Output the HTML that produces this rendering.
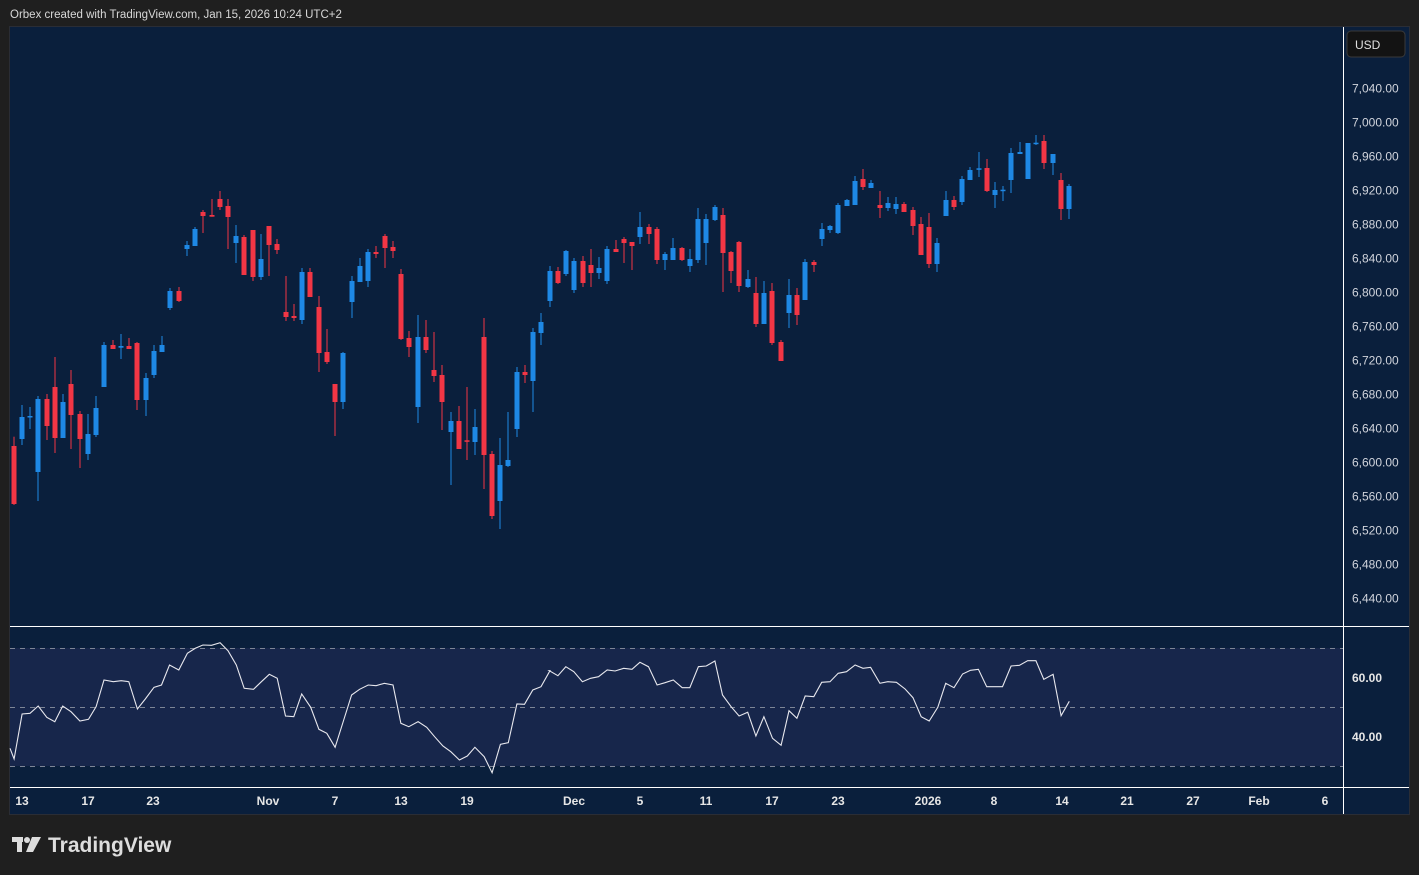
<!DOCTYPE html>
<html><head><meta charset="utf-8"><style>
html,body{margin:0;padding:0;background:#1f1f1f;width:1419px;height:875px;overflow:hidden}
svg{display:block}
text{font-family:"Liberation Sans",sans-serif}
</style></head><body>
<svg id="s" width="1419" height="875" xmlns="http://www.w3.org/2000/svg">
<rect x="0" y="0" width="1419" height="875" fill="#1f1f1f"/>
<text x="10" y="18" font-size="11.5" fill="#d8d8d8">Orbex created with TradingView.com, Jan 15, 2026 10:24 UTC+2</text>
<rect x="9" y="26" width="1401" height="789" fill="#2a2d35"/>
<rect x="10" y="27" width="1399" height="787" fill="#0a1f3c"/>
<rect x="10" y="648" width="1333" height="118" fill="#17264b"/>
<g stroke="#7d8596" stroke-width="1" stroke-dasharray="5,5">
<line x1="10" y1="648.5" x2="1343" y2="648.5"/>
<line x1="10" y1="707.5" x2="1343" y2="707.5"/>
<line x1="10" y1="766.5" x2="1343" y2="766.5"/>
</g>
<g stroke="#ffffff" stroke-width="1">
<line x1="10" y1="626.5" x2="1409" y2="626.5"/>
<line x1="10" y1="787.5" x2="1409" y2="787.5"/>
<line x1="1343.5" y1="27" x2="1343.5" y2="814"/>
</g>
<rect x="1347" y="31" width="58" height="26" rx="4" fill="#131313" stroke="#3a3a3a"/>
<text x="1355" y="49" font-size="12" fill="#e0e0e0">USD</text>
<g id="cand"></g>
<g id="rsi"></g>
<g id="lab" font-size="12" fill="#d1d4dc"></g>
<g font-size="12" fill="#e6e6e6" font-weight="bold">
<text x="1352" y="682">60.00</text>
<text x="1352" y="741">40.00</text>
</g>
<g id="tl" font-size="12" fill="#e6e6e6" font-weight="bold" text-anchor="middle"></g>
<g fill="#dddddd">
<rect x="12" y="837" width="11" height="5"/>
<rect x="17" y="837" width="5" height="15"/>
<circle cx="27" cy="840" r="3"/>
<polygon points="32,837 41,837 33,852 26,852"/>
</g>
<text x="48" y="852" font-size="21" font-weight="bold" fill="#dddddd">TradingView</text>
</svg>
<script>
var NS="http://www.w3.org/2000/svg";
function el(p,t,a,txt){var e=document.createElementNS(NS,t);for(var k in a)e.setAttribute(k,a[k]);if(txt)e.textContent=txt;p.appendChild(e);return e;}
var R="#f23645",B="#1e88e5";
var g1=[[13,R,798,972,770,975],[37,B,711,777,675,795],[61,B,708,711,681,747],[85,B,657,876,648,963],[112,R,657,738,642,780],[136,R,621,774,531,819],[160,B,666,774,642,774],[184,R,612,705,570,807],[211,R,702,777,693,864],[235,B,762,822,702,840],[259,B,684,765,648,771],[283,B,495,621,486,621],[310,R,495,507,480,507],[334,B,498,503,462,537],[358,R,498,507,474,507],[382,R,489,660,486,690],[409,B,594,660,579,708],[433,B,513,585,495,594],[457,B,495,516,468,516],[481,B,333,384,324,390],[508,R,333,363,321,366],[532,B,195,207,183,228],[556,B,147,198,141,198],[580,R,96,108,90,159],[607,R,105,110,57,110],[631,R,57,81,33,90],[655,R,78,111,57,207],[679,B,168,189,135,249],[703,R,171,285,165,285],[730,R,150,291,150,303],[754,B,237,291,162,300],[778,R,138,195,138,288],[802,R,192,210,177,222],[829,R,396,411,288,423],[853,R,408,414,372,423],[877,B,276,420,264,432],[901,R,276,351,264,351],[928,R,381,519,348,576],[952,R,516,546,447,552],[976,R,612,666,612,768],[1000,B,519,666,516,687],[1027,B,303,366,288,414],[1051,B,258,306,234,306],[1075,B,216,303,207,321]];
var g2=[[49,R,156,162,138,174],[76,R,108,144,102,204],[100,R,141,153,123,174],[124,R,222,417,207,420],[148,R,414,441,393,471],[175,B,411,621,345,669],[199,R,411,450,360,459],[223,R,510,528,396,546],[247,R,525,606,495,690],[274,B,663,696,636,855],[298,R,663,747,618,747],[322,R,721,725,561,780],[346,B,681,726,627,765],[373,R,411,765,354,867],[397,R,762,948,753,957],[421,B,795,903,714,987],[445,B,780,798,636,801],[472,B,516,687,501,711],[496,R,516,525,495,549],[520,B,396,543,384,636],[544,B,366,399,339,435],[571,B,213,303,198,321],[595,R,213,249,201,252],[619,B,153,222,150,228],[643,B,183,270,174,279],[670,R,183,249,168,261],[694,R,195,219,147,261],[718,B,204,219,171,237],[742,B,147,243,138,252],[769,R,147,156,120,156],[793,R,117,129,111,189],[817,R,126,138,126,210],[841,B,81,111,36,132],[868,R,81,102,72,132],[892,R,87,180,81,192],[916,B,162,180,156,210],[940,B,144,180,114,180],[967,R,144,180,141,183],[991,B,177,198,147,216],[1015,B,57,180,24,189],[1039,B,57,129,42,195]];
var g3=[[45,B,261,300,255,303],[70,R,285,399,264,516],[94,R,396,453,393,489],[118,R,366,498,363,516],[145,B,477,501,450,504],[169,R,519,612,471,621],[193,B,519,612,483,612],[217,R,513,669,489,675],[244,R,666,723,660,723],[268,B,525,579,477,624],[292,R,525,585,504,615],[316,B,426,540,417,540],[343,R,426,435,420,456],[367,B,327,357,309,378],[391,B,318,330,315,339],[415,B,255,339,249,342],[442,B,240,258,237,258],[466,B,183,255,168,255],[490,R,177,201,147,210],[514,B,189,204,180,204],[541,R,255,264,213,294],[565,B,249,264,231,273],[589,B,252,267,231,282],[613,R,252,276,246,276],[640,R,270,318,261,345],[664,R,312,405,291,405],[688,R,321,432,279,444],[712,B,369,432,354,456],[739,B,240,288,213,288],[763,R,240,261,228,270],[787,B,177,246,168,255],[811,B,150,180,141,180],[838,B,145,149,96,171],[862,R,144,213,117,216],[886,B,210,225,186,264],[910,B,209,213,198,243],[934,B,99,180,84,219],[961,B,96,102,66,102],[985,B,69,177,69,177],[1009,B,68,72,45,75],[1033,R,63,129,45,147],[1060,B,102,129,102,165],[1084,R,180,267,159,300],[1108,B,198,267,192,297]];
var cg=document.getElementById("cand");
function draw(arr,ox,oy){arr.forEach(function(c){var x=ox+c[0]/3,bt=oy+c[2]/3,bb=oy+c[3]/3,wt=oy+c[4]/3,wb=oy+c[5]/3;
el(cg,"rect",{x:(Math.round(x)-0.5).toFixed(1),y:wt.toFixed(1),width:1,height:Math.max(1,wb-wt).toFixed(1),fill:c[1]});
el(cg,"rect",{x:(Math.round(x)-2.5).toFixed(1),y:bt.toFixed(1),width:5,height:Math.max(1.5,bb-bt).toFixed(1),fill:c[1]});});}
draw(g1,10,180);draw(g2,360,200);draw(g3,700,120);
var r1=[[0,355],[12,387],[35,252],[58,250],[82,228],[107,262],[130,275],[153,228],[177,245],[203,273],[228,268],[250,230],[273,150],[300,155],[323,152],[345,155],[370,237],[393,207],[418,172],[440,165],[463,105],[490,120],[515,70],[538,55],[560,45],[585,46],[610,38],[633,62],[657,105],[680,175],[707,178],[730,155],[753,133],[776,145],[800,258],[824,260],[847,192],[873,232],[897,298],[920,310],[944,352],[968,273],[992,195],[1015,178],[1040,165],[1063,167],[1087,160],[1112,165],[1135,280],[1158,290],[1185,275],[1210,292],[1233,320],[1257,348],[1280,365],[1305,390],[1328,378],[1350,352],[1377,380],[1400,428],[1424,343],[1447,338],[1472,222],[1494,223],[1518,180],[1542,170],[1568,122]];
var r2=[[27,122],[52,137],[75,110],[98,125],[123,155],[147,145],[170,140],[195,120],[218,123],[243,115],[267,118],[290,97],[315,110],[340,165],[363,158],[387,150],[413,173],[435,173],[460,110],[483,108],[508,93],[530,195],[555,230],[578,258],[603,247],[627,318],[650,260],[675,325],[700,346],[723,242],[746,265],[770,198],[795,200],[818,157],[842,155],[866,130],[890,125],[915,105],[938,115],[960,112],[987,160],[1010,155],[1035,157],[1060,177],[1083,203],[1107,260],[1130,273],[1155,232],[1178,160],[1202,173],[1227,132],[1250,121],[1273,118],[1297,170],[1320,170],[1343,170],[1368,108],[1392,106],[1416,92],[1440,92],[1463,148],[1490,133],[1513,257],[1537,214]];
var sx=540/1568;
var pts=r1.map(function(p){return (10+p[0]*sx).toFixed(1)+","+(630+p[1]/3).toFixed(1)}).concat(r2.map(function(p){return (540+p[0]*sx).toFixed(1)+","+(630+p[1]/3).toFixed(1)}));
el(document.getElementById("rsi"),"polyline",{points:pts.join(" "),fill:"none",stroke:"#e8e8ee","stroke-width":1.1});
var lab=document.getElementById("lab");
for(var i=0;i<16;i++){var v=7040-40*i;var y=88+34*i;el(lab,"text",{x:1352,y:y+4.5},v.toLocaleString("en-US")+".00");}
var tl=document.getElementById("tl");
[["13",22],["17",88],["23",153],["Nov",268],["7",335],["13",401],["19",467],["Dec",574],["5",640],["11",706],["17",772],["23",838],["2026",928],["8",994],["14",1062],["21",1127],["27",1193],["Feb",1259],["6",1325]].forEach(function(t){el(tl,"text",{x:t[1],y:805},t[0]);});
</script>
</body></html>
